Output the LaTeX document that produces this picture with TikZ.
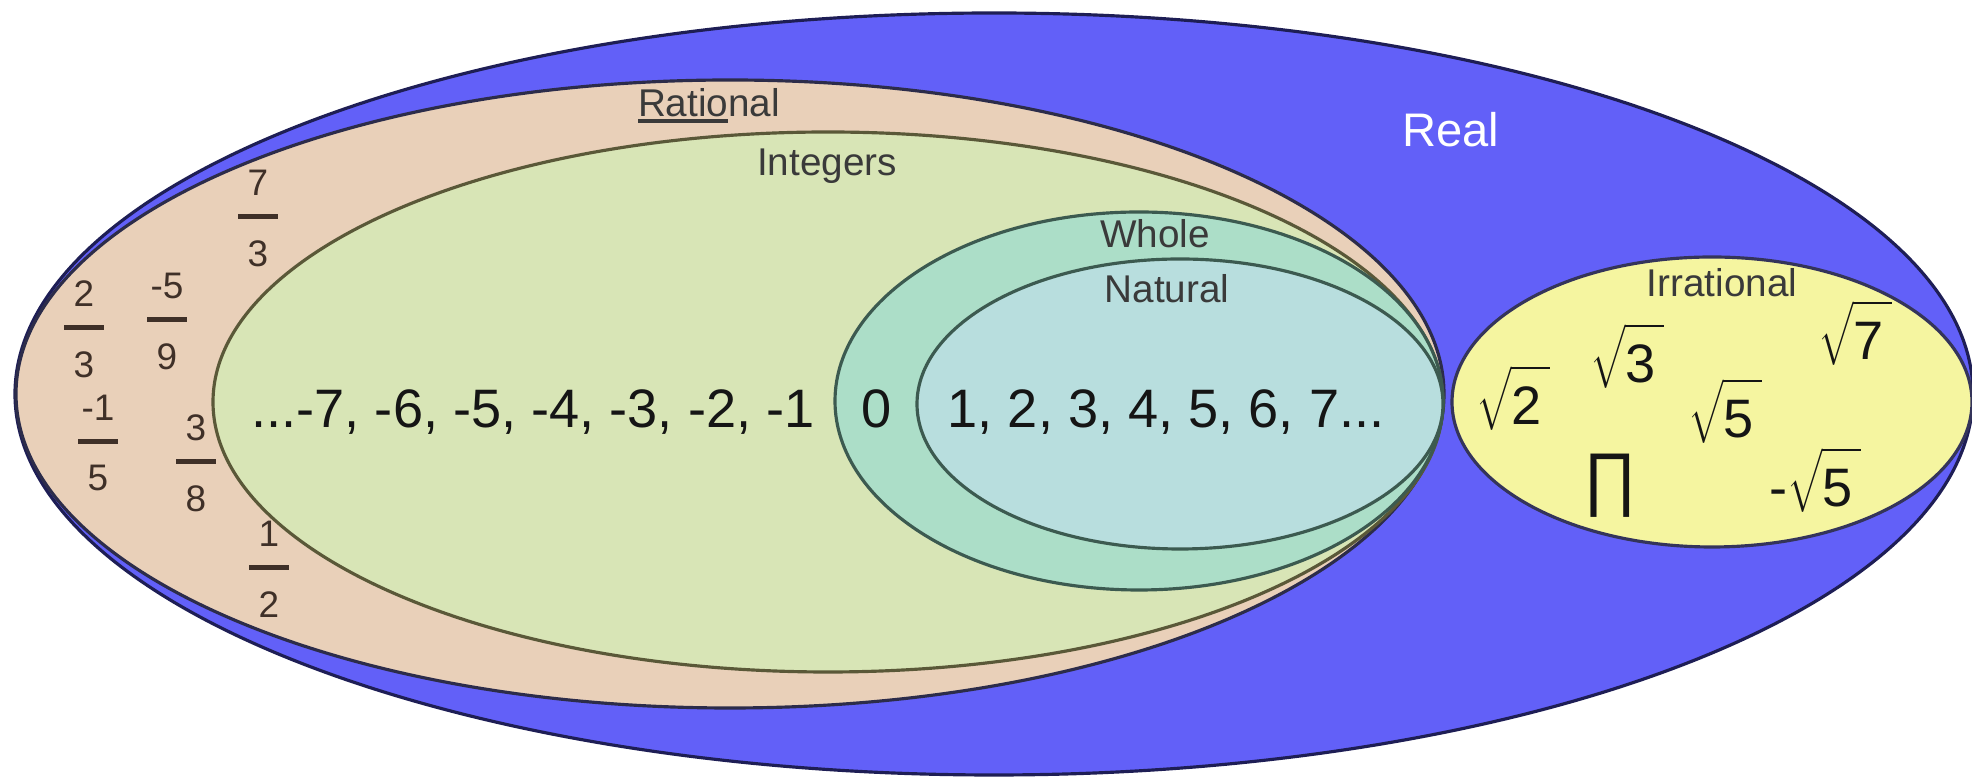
\documentclass[tikz,border=0pt]{standalone}
\usepackage{fontspec}
\setmainfont{Liberation Sans}
\usetikzlibrary{positioning}
\definecolor{realfill}{HTML}{6260F8}
\definecolor{realline}{HTML}{1E1E55}
\definecolor{ratfill}{HTML}{E9D0B9}
\definecolor{ratline}{HTML}{2C2C4A}
\definecolor{intfill}{HTML}{D8E5B6}
\definecolor{intline}{HTML}{5A5838}
\definecolor{wholefill}{HTML}{ACDEC8}
\definecolor{natfill}{HTML}{B8DEDE}
\definecolor{wholeline}{HTML}{3C5A50}
\definecolor{irrfill}{HTML}{F5F5A0}
\definecolor{irrline}{HTML}{34345A}
\definecolor{labelgray}{HTML}{3A3A3A}
\definecolor{fracink}{HTML}{3F3028}
\definecolor{numink}{HTML}{151515}

\newcommand{\ratfrac}[4]{%
  \node[fracbar] (#1) at (#2) {};
  \node[fracdig, above=0.175cm of #1] (#1n) {#3};
  \node[fracdig, below=0.195cm of #1] (#1d) {#4};
}
\newcommand{\thickul}[1]{\setbox0=\hbox{#1}\rlap{\rule[-1.6pt]{\wd0}{1.1pt}}#1}
\newcommand{\rootof}[1]{$\sqrt{\rule{0pt}{14pt}\mbox{#1}\,}$}

\begin{document}
\begin{tikzpicture}[
  x=0.01cm, y=-0.01cm,
  setline/.style={line width=0.9pt},
  setlbl/.style={font=\fontsize{11}{13}\selectfont, text=labelgray, inner sep=0pt, anchor=base},
  numrow/.style={font=\fontsize{15.4}{18}\selectfont, text=numink, inner sep=0pt, anchor=base},
  fracbar/.style={fill=fracink, minimum width=0.4cm, minimum height=0.05cm, inner sep=0pt},
  fracdig/.style={font=\fontsize{10.5}{12}\selectfont, text=fracink, inner sep=0pt},
  irr/.style={font=\fontsize{15.4}{18}\selectfont, text=numink, inner sep=0pt, anchor=base},
]
  \useasboundingbox (0,0) rectangle (1972,777);

  \draw[setline, draw=realline,  fill=realfill]  (994,394)  ellipse [x radius=979, y radius=381];
  \draw[setline, draw=ratline,   fill=ratfill]   (730,394)  ellipse [x radius=714, y radius=314];
  \draw[setline, draw=intline,   fill=intfill]   (828,402)  ellipse [x radius=615, y radius=270];
  \draw[setline, draw=wholeline, fill=wholefill] (1139,401) ellipse [x radius=304, y radius=189];
  \draw[setline, draw=wholeline, fill=natfill]   (1180,404) ellipse [x radius=263, y radius=145];
  \draw[setline, draw=irrline,   fill=irrfill]   (1712,402) ellipse [x radius=260, y radius=145];

  \node[setlbl] (ratlbl)   at (709,117)  {\thickul{Ratio}nal};
  \node[setlbl] (intlbl)   at (827,176)  {Integers};
  \node[setlbl, text=white, font=\fontsize{13.4}{16}\selectfont] (reallbl) at (1451,147) {Real};
  \node[setlbl] (wholelbl) at (1155,248) {Whole};
  \node[setlbl] (natlbl)   at (1167,303) {Natural};
  \node[setlbl] (irrlbl)   at (1722,297) {Irrational};

  \node[numrow] (negs) at (533,428)  {...-7, -6, -5, -4, -3, -2, -1};
  \node[numrow] (zero) at (877,428)  {0};
  \node[numrow] (posn) at (1166,428) {1, 2, 3, 4, 5, 6, 7...};

  \ratfrac{f73}{258,217}{7}{3}
  \ratfrac{f23}{84,328}{2}{3}
  \ratfrac{f59}{167,320}{-5}{9}
  \ratfrac{f15}{98,442}{-1}{5}
  \ratfrac{f38}{196,462}{3}{8}
  \ratfrac{f12}{269,568}{1}{2}

  \node[irr] (sq2)  at (1513,425) {\rootof{2}};
  \node[irr] (sq3)  at (1627,383) {\rootof{3}};
  \node[irr] (sq7)  at (1855,360) {\rootof{7}};
  \node[irr] (sq5)  at (1725,438) {\rootof{5}};
  \node[irr] (pi)   at (1610,503) {\scalebox{1.2}[1.3]{∏}};
  \node[irr] (msq5) at (1815,507) {-\rootof{5}};
\end{tikzpicture}
\end{document}
